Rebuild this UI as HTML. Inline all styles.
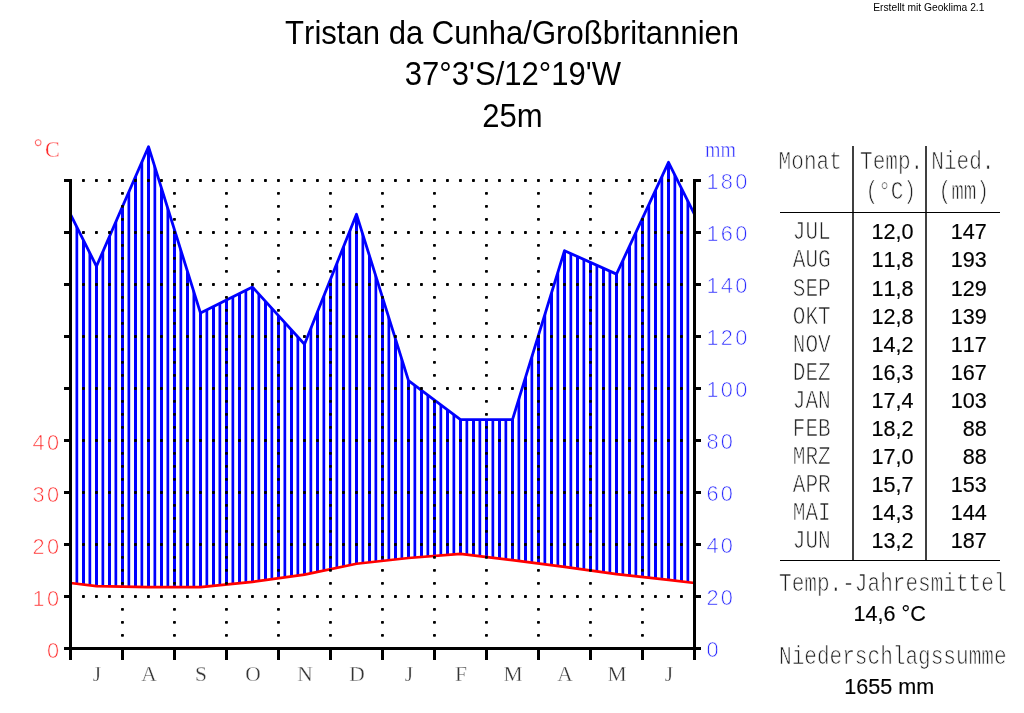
<!DOCTYPE html>
<html lang="de"><head><meta charset="utf-8"><title>Klimadiagramm Tristan da Cunha</title>
<style>
html,body{margin:0;padding:0;background:#fff;}
body{width:1024px;height:713px;overflow:hidden;position:relative;}
svg{position:absolute;left:0;top:0;display:block;}
.sans{font-family:"Liberation Sans",Arial,Helvetica,sans-serif;fill:#000;font-kerning:none;}
.b{stroke:#000;stroke-width:0.15px;}
.mono{font-family:"Liberation Mono","Courier New",Courier,monospace;}
.thin{stroke:#fff;stroke-width:0.7px;paint-order:fill stroke;}
.thin3{stroke:#fff;stroke-width:0.5px;paint-order:fill stroke;}
.thin2{stroke:#fff;stroke-width:0.35px;paint-order:fill stroke;}
.serif{font-family:"Liberation Serif","Times New Roman",Times,serif;}
</style></head><body>
<svg width="1024" height="713" viewBox="0 0 1024 713">
<rect x="0" y="0" width="1024" height="713" fill="#fff"/>
<defs><clipPath id="area"><polygon points="70.50,214.30 96.50,266.30 148.50,146.70 200.50,313.10 252.50,287.10 304.50,344.30 356.50,214.30 408.50,380.70 460.50,419.70 512.50,419.70 564.50,250.70 616.50,274.10 668.50,162.30 694.50,214.30 694.50,582.98 668.50,579.86 616.50,574.14 564.50,566.86 512.50,560.10 460.50,553.86 408.50,558.02 356.50,563.74 304.50,574.66 252.50,581.94 200.50,587.14 148.50,587.14 96.50,586.10 70.50,582.98"/></clipPath></defs>
<g clip-path="url(#area)" fill="#0000ff">
<rect x="75.5" y="130" width="2.7" height="470"/>
<rect x="82" y="130" width="3" height="470"/>
<rect x="88.5" y="130" width="2.7" height="470"/>
<rect x="95" y="130" width="3" height="470"/>
<rect x="101.5" y="130" width="2.7" height="470"/>
<rect x="108" y="130" width="3" height="470"/>
<rect x="114.5" y="130" width="2.7" height="470"/>
<rect x="121" y="130" width="3" height="470"/>
<rect x="127.5" y="130" width="2.7" height="470"/>
<rect x="134" y="130" width="3" height="470"/>
<rect x="140.5" y="130" width="2.7" height="470"/>
<rect x="147" y="130" width="3" height="470"/>
<rect x="153.5" y="130" width="2.7" height="470"/>
<rect x="160" y="130" width="3" height="470"/>
<rect x="166.5" y="130" width="2.7" height="470"/>
<rect x="173" y="130" width="3" height="470"/>
<rect x="179.5" y="130" width="2.7" height="470"/>
<rect x="186" y="130" width="3" height="470"/>
<rect x="192.5" y="130" width="2.7" height="470"/>
<rect x="199" y="130" width="3" height="470"/>
<rect x="205.5" y="130" width="2.7" height="470"/>
<rect x="212" y="130" width="3" height="470"/>
<rect x="218.5" y="130" width="2.7" height="470"/>
<rect x="225" y="130" width="3" height="470"/>
<rect x="231.5" y="130" width="2.7" height="470"/>
<rect x="238" y="130" width="3" height="470"/>
<rect x="244.5" y="130" width="2.7" height="470"/>
<rect x="251" y="130" width="3" height="470"/>
<rect x="257.5" y="130" width="2.7" height="470"/>
<rect x="264" y="130" width="3" height="470"/>
<rect x="270.5" y="130" width="2.7" height="470"/>
<rect x="277" y="130" width="3" height="470"/>
<rect x="283.5" y="130" width="2.7" height="470"/>
<rect x="290" y="130" width="3" height="470"/>
<rect x="296.5" y="130" width="2.7" height="470"/>
<rect x="303" y="130" width="3" height="470"/>
<rect x="309.5" y="130" width="2.7" height="470"/>
<rect x="316" y="130" width="3" height="470"/>
<rect x="322.5" y="130" width="2.7" height="470"/>
<rect x="329" y="130" width="3" height="470"/>
<rect x="335.5" y="130" width="2.7" height="470"/>
<rect x="342" y="130" width="3" height="470"/>
<rect x="348.5" y="130" width="2.7" height="470"/>
<rect x="355" y="130" width="3" height="470"/>
<rect x="361.5" y="130" width="2.7" height="470"/>
<rect x="368" y="130" width="3" height="470"/>
<rect x="374.5" y="130" width="2.7" height="470"/>
<rect x="381" y="130" width="3" height="470"/>
<rect x="387.5" y="130" width="2.7" height="470"/>
<rect x="394" y="130" width="3" height="470"/>
<rect x="400.5" y="130" width="2.7" height="470"/>
<rect x="407" y="130" width="3" height="470"/>
<rect x="413.5" y="130" width="2.7" height="470"/>
<rect x="420" y="130" width="3" height="470"/>
<rect x="426.5" y="130" width="2.7" height="470"/>
<rect x="433" y="130" width="3" height="470"/>
<rect x="439.5" y="130" width="2.7" height="470"/>
<rect x="446" y="130" width="3" height="470"/>
<rect x="452.5" y="130" width="2.7" height="470"/>
<rect x="459" y="130" width="3" height="470"/>
<rect x="465.5" y="130" width="2.7" height="470"/>
<rect x="472" y="130" width="3" height="470"/>
<rect x="478.5" y="130" width="2.7" height="470"/>
<rect x="485" y="130" width="3" height="470"/>
<rect x="491.5" y="130" width="2.7" height="470"/>
<rect x="498" y="130" width="3" height="470"/>
<rect x="504.5" y="130" width="2.7" height="470"/>
<rect x="511" y="130" width="3" height="470"/>
<rect x="517.5" y="130" width="2.7" height="470"/>
<rect x="524" y="130" width="3" height="470"/>
<rect x="530.5" y="130" width="2.7" height="470"/>
<rect x="537" y="130" width="3" height="470"/>
<rect x="543.5" y="130" width="2.7" height="470"/>
<rect x="550" y="130" width="3" height="470"/>
<rect x="556.5" y="130" width="2.7" height="470"/>
<rect x="563" y="130" width="3" height="470"/>
<rect x="569.5" y="130" width="2.7" height="470"/>
<rect x="576" y="130" width="3" height="470"/>
<rect x="582.5" y="130" width="2.7" height="470"/>
<rect x="589" y="130" width="3" height="470"/>
<rect x="595.5" y="130" width="2.7" height="470"/>
<rect x="602" y="130" width="3" height="470"/>
<rect x="608.5" y="130" width="2.7" height="470"/>
<rect x="615" y="130" width="3" height="470"/>
<rect x="621.5" y="130" width="2.7" height="470"/>
<rect x="628" y="130" width="3" height="470"/>
<rect x="634.5" y="130" width="2.7" height="470"/>
<rect x="641" y="130" width="3" height="470"/>
<rect x="647.5" y="130" width="2.7" height="470"/>
<rect x="654" y="130" width="3" height="470"/>
<rect x="660.5" y="130" width="2.7" height="470"/>
<rect x="667" y="130" width="3" height="470"/>
<rect x="673.5" y="130" width="2.7" height="470"/>
<rect x="680" y="130" width="3" height="470"/>
<rect x="686.5" y="130" width="2.7" height="470"/>
</g>
<polyline points="70.50,214.30 96.50,266.30 148.50,146.70 200.50,313.10 252.50,287.10 304.50,344.30 356.50,214.30 408.50,380.70 460.50,419.70 512.50,419.70 564.50,250.70 616.50,274.10 668.50,162.30 694.50,214.30" fill="none" stroke="#0000ff" stroke-width="2.8" stroke-linejoin="round"/>
<polyline points="70.50,582.98 96.50,586.10 148.50,587.14 200.50,587.14 252.50,581.94 304.50,574.66 356.50,563.74 408.50,558.02 460.50,553.86 512.50,560.10 564.50,566.86 616.50,574.14 668.50,579.86 694.50,582.98" fill="none" stroke="#ff0000" stroke-width="2.7" stroke-linejoin="round"/>
<g fill="#000">
<rect x="82" y="179.1" width="2.9" height="2.8" rx="0.7"/>
<rect x="95" y="179.1" width="2.9" height="2.8" rx="0.7"/>
<rect x="108" y="179.1" width="2.9" height="2.8" rx="0.7"/>
<rect x="121" y="179.1" width="2.9" height="2.8" rx="0.7"/>
<rect x="134" y="179.1" width="2.9" height="2.8" rx="0.7"/>
<rect x="147" y="179.1" width="2.9" height="2.8" rx="0.7"/>
<rect x="160" y="179.1" width="2.9" height="2.8" rx="0.7"/>
<rect x="173" y="179.1" width="2.9" height="2.8" rx="0.7"/>
<rect x="186" y="179.1" width="2.9" height="2.8" rx="0.7"/>
<rect x="199" y="179.1" width="2.9" height="2.8" rx="0.7"/>
<rect x="212" y="179.1" width="2.9" height="2.8" rx="0.7"/>
<rect x="225" y="179.1" width="2.9" height="2.8" rx="0.7"/>
<rect x="238" y="179.1" width="2.9" height="2.8" rx="0.7"/>
<rect x="251" y="179.1" width="2.9" height="2.8" rx="0.7"/>
<rect x="264" y="179.1" width="2.9" height="2.8" rx="0.7"/>
<rect x="277" y="179.1" width="2.9" height="2.8" rx="0.7"/>
<rect x="290" y="179.1" width="2.9" height="2.8" rx="0.7"/>
<rect x="303" y="179.1" width="2.9" height="2.8" rx="0.7"/>
<rect x="316" y="179.1" width="2.9" height="2.8" rx="0.7"/>
<rect x="329" y="179.1" width="2.9" height="2.8" rx="0.7"/>
<rect x="342" y="179.1" width="2.9" height="2.8" rx="0.7"/>
<rect x="355" y="179.1" width="2.9" height="2.8" rx="0.7"/>
<rect x="368" y="179.1" width="2.9" height="2.8" rx="0.7"/>
<rect x="381" y="179.1" width="2.9" height="2.8" rx="0.7"/>
<rect x="394" y="179.1" width="2.9" height="2.8" rx="0.7"/>
<rect x="407" y="179.1" width="2.9" height="2.8" rx="0.7"/>
<rect x="420" y="179.1" width="2.9" height="2.8" rx="0.7"/>
<rect x="433" y="179.1" width="2.9" height="2.8" rx="0.7"/>
<rect x="446" y="179.1" width="2.9" height="2.8" rx="0.7"/>
<rect x="459" y="179.1" width="2.9" height="2.8" rx="0.7"/>
<rect x="472" y="179.1" width="2.9" height="2.8" rx="0.7"/>
<rect x="485" y="179.1" width="2.9" height="2.8" rx="0.7"/>
<rect x="498" y="179.1" width="2.9" height="2.8" rx="0.7"/>
<rect x="511" y="179.1" width="2.9" height="2.8" rx="0.7"/>
<rect x="524" y="179.1" width="2.9" height="2.8" rx="0.7"/>
<rect x="537" y="179.1" width="2.9" height="2.8" rx="0.7"/>
<rect x="550" y="179.1" width="2.9" height="2.8" rx="0.7"/>
<rect x="563" y="179.1" width="2.9" height="2.8" rx="0.7"/>
<rect x="576" y="179.1" width="2.9" height="2.8" rx="0.7"/>
<rect x="589" y="179.1" width="2.9" height="2.8" rx="0.7"/>
<rect x="602" y="179.1" width="2.9" height="2.8" rx="0.7"/>
<rect x="615" y="179.1" width="2.9" height="2.8" rx="0.7"/>
<rect x="628" y="179.1" width="2.9" height="2.8" rx="0.7"/>
<rect x="641" y="179.1" width="2.9" height="2.8" rx="0.7"/>
<rect x="654" y="179.1" width="2.9" height="2.8" rx="0.7"/>
<rect x="667" y="179.1" width="2.9" height="2.8" rx="0.7"/>
<rect x="680" y="179.1" width="2.9" height="2.8" rx="0.7"/>
<rect x="82" y="231.1" width="2.9" height="2.8" rx="0.7"/>
<rect x="95" y="231.1" width="2.9" height="2.8" rx="0.7"/>
<rect x="108" y="231.1" width="2.9" height="2.8" rx="0.7"/>
<rect x="121" y="231.1" width="2.9" height="2.8" rx="0.7"/>
<rect x="134" y="231.1" width="2.9" height="2.8" rx="0.7"/>
<rect x="147" y="231.1" width="2.9" height="2.8" rx="0.7"/>
<rect x="160" y="231.1" width="2.9" height="2.8" rx="0.7"/>
<rect x="173" y="231.1" width="2.9" height="2.8" rx="0.7"/>
<rect x="186" y="231.1" width="2.9" height="2.8" rx="0.7"/>
<rect x="199" y="231.1" width="2.9" height="2.8" rx="0.7"/>
<rect x="212" y="231.1" width="2.9" height="2.8" rx="0.7"/>
<rect x="225" y="231.1" width="2.9" height="2.8" rx="0.7"/>
<rect x="238" y="231.1" width="2.9" height="2.8" rx="0.7"/>
<rect x="251" y="231.1" width="2.9" height="2.8" rx="0.7"/>
<rect x="264" y="231.1" width="2.9" height="2.8" rx="0.7"/>
<rect x="277" y="231.1" width="2.9" height="2.8" rx="0.7"/>
<rect x="290" y="231.1" width="2.9" height="2.8" rx="0.7"/>
<rect x="303" y="231.1" width="2.9" height="2.8" rx="0.7"/>
<rect x="316" y="231.1" width="2.9" height="2.8" rx="0.7"/>
<rect x="329" y="231.1" width="2.9" height="2.8" rx="0.7"/>
<rect x="342" y="231.1" width="2.9" height="2.8" rx="0.7"/>
<rect x="355" y="231.1" width="2.9" height="2.8" rx="0.7"/>
<rect x="368" y="231.1" width="2.9" height="2.8" rx="0.7"/>
<rect x="381" y="231.1" width="2.9" height="2.8" rx="0.7"/>
<rect x="394" y="231.1" width="2.9" height="2.8" rx="0.7"/>
<rect x="407" y="231.1" width="2.9" height="2.8" rx="0.7"/>
<rect x="420" y="231.1" width="2.9" height="2.8" rx="0.7"/>
<rect x="433" y="231.1" width="2.9" height="2.8" rx="0.7"/>
<rect x="446" y="231.1" width="2.9" height="2.8" rx="0.7"/>
<rect x="459" y="231.1" width="2.9" height="2.8" rx="0.7"/>
<rect x="472" y="231.1" width="2.9" height="2.8" rx="0.7"/>
<rect x="485" y="231.1" width="2.9" height="2.8" rx="0.7"/>
<rect x="498" y="231.1" width="2.9" height="2.8" rx="0.7"/>
<rect x="511" y="231.1" width="2.9" height="2.8" rx="0.7"/>
<rect x="524" y="231.1" width="2.9" height="2.8" rx="0.7"/>
<rect x="537" y="231.1" width="2.9" height="2.8" rx="0.7"/>
<rect x="550" y="231.1" width="2.9" height="2.8" rx="0.7"/>
<rect x="563" y="231.1" width="2.9" height="2.8" rx="0.7"/>
<rect x="576" y="231.1" width="2.9" height="2.8" rx="0.7"/>
<rect x="589" y="231.1" width="2.9" height="2.8" rx="0.7"/>
<rect x="602" y="231.1" width="2.9" height="2.8" rx="0.7"/>
<rect x="615" y="231.1" width="2.9" height="2.8" rx="0.7"/>
<rect x="628" y="231.1" width="2.9" height="2.8" rx="0.7"/>
<rect x="641" y="231.1" width="2.9" height="2.8" rx="0.7"/>
<rect x="654" y="231.1" width="2.9" height="2.8" rx="0.7"/>
<rect x="667" y="231.1" width="2.9" height="2.8" rx="0.7"/>
<rect x="680" y="231.1" width="2.9" height="2.8" rx="0.7"/>
<rect x="82" y="283.1" width="2.9" height="2.8" rx="0.7"/>
<rect x="95" y="283.1" width="2.9" height="2.8" rx="0.7"/>
<rect x="108" y="283.1" width="2.9" height="2.8" rx="0.7"/>
<rect x="121" y="283.1" width="2.9" height="2.8" rx="0.7"/>
<rect x="134" y="283.1" width="2.9" height="2.8" rx="0.7"/>
<rect x="147" y="283.1" width="2.9" height="2.8" rx="0.7"/>
<rect x="160" y="283.1" width="2.9" height="2.8" rx="0.7"/>
<rect x="173" y="283.1" width="2.9" height="2.8" rx="0.7"/>
<rect x="186" y="283.1" width="2.9" height="2.8" rx="0.7"/>
<rect x="199" y="283.1" width="2.9" height="2.8" rx="0.7"/>
<rect x="212" y="283.1" width="2.9" height="2.8" rx="0.7"/>
<rect x="225" y="283.1" width="2.9" height="2.8" rx="0.7"/>
<rect x="238" y="283.1" width="2.9" height="2.8" rx="0.7"/>
<rect x="251" y="283.1" width="2.9" height="2.8" rx="0.7"/>
<rect x="264" y="283.1" width="2.9" height="2.8" rx="0.7"/>
<rect x="277" y="283.1" width="2.9" height="2.8" rx="0.7"/>
<rect x="290" y="283.1" width="2.9" height="2.8" rx="0.7"/>
<rect x="303" y="283.1" width="2.9" height="2.8" rx="0.7"/>
<rect x="316" y="283.1" width="2.9" height="2.8" rx="0.7"/>
<rect x="329" y="283.1" width="2.9" height="2.8" rx="0.7"/>
<rect x="342" y="283.1" width="2.9" height="2.8" rx="0.7"/>
<rect x="355" y="283.1" width="2.9" height="2.8" rx="0.7"/>
<rect x="368" y="283.1" width="2.9" height="2.8" rx="0.7"/>
<rect x="381" y="283.1" width="2.9" height="2.8" rx="0.7"/>
<rect x="394" y="283.1" width="2.9" height="2.8" rx="0.7"/>
<rect x="407" y="283.1" width="2.9" height="2.8" rx="0.7"/>
<rect x="420" y="283.1" width="2.9" height="2.8" rx="0.7"/>
<rect x="433" y="283.1" width="2.9" height="2.8" rx="0.7"/>
<rect x="446" y="283.1" width="2.9" height="2.8" rx="0.7"/>
<rect x="459" y="283.1" width="2.9" height="2.8" rx="0.7"/>
<rect x="472" y="283.1" width="2.9" height="2.8" rx="0.7"/>
<rect x="485" y="283.1" width="2.9" height="2.8" rx="0.7"/>
<rect x="498" y="283.1" width="2.9" height="2.8" rx="0.7"/>
<rect x="511" y="283.1" width="2.9" height="2.8" rx="0.7"/>
<rect x="524" y="283.1" width="2.9" height="2.8" rx="0.7"/>
<rect x="537" y="283.1" width="2.9" height="2.8" rx="0.7"/>
<rect x="550" y="283.1" width="2.9" height="2.8" rx="0.7"/>
<rect x="563" y="283.1" width="2.9" height="2.8" rx="0.7"/>
<rect x="576" y="283.1" width="2.9" height="2.8" rx="0.7"/>
<rect x="589" y="283.1" width="2.9" height="2.8" rx="0.7"/>
<rect x="602" y="283.1" width="2.9" height="2.8" rx="0.7"/>
<rect x="615" y="283.1" width="2.9" height="2.8" rx="0.7"/>
<rect x="628" y="283.1" width="2.9" height="2.8" rx="0.7"/>
<rect x="641" y="283.1" width="2.9" height="2.8" rx="0.7"/>
<rect x="654" y="283.1" width="2.9" height="2.8" rx="0.7"/>
<rect x="667" y="283.1" width="2.9" height="2.8" rx="0.7"/>
<rect x="680" y="283.1" width="2.9" height="2.8" rx="0.7"/>
<rect x="82" y="335.1" width="2.9" height="2.8" rx="0.7"/>
<rect x="95" y="335.1" width="2.9" height="2.8" rx="0.7"/>
<rect x="108" y="335.1" width="2.9" height="2.8" rx="0.7"/>
<rect x="121" y="335.1" width="2.9" height="2.8" rx="0.7"/>
<rect x="134" y="335.1" width="2.9" height="2.8" rx="0.7"/>
<rect x="147" y="335.1" width="2.9" height="2.8" rx="0.7"/>
<rect x="160" y="335.1" width="2.9" height="2.8" rx="0.7"/>
<rect x="173" y="335.1" width="2.9" height="2.8" rx="0.7"/>
<rect x="186" y="335.1" width="2.9" height="2.8" rx="0.7"/>
<rect x="199" y="335.1" width="2.9" height="2.8" rx="0.7"/>
<rect x="212" y="335.1" width="2.9" height="2.8" rx="0.7"/>
<rect x="225" y="335.1" width="2.9" height="2.8" rx="0.7"/>
<rect x="238" y="335.1" width="2.9" height="2.8" rx="0.7"/>
<rect x="251" y="335.1" width="2.9" height="2.8" rx="0.7"/>
<rect x="264" y="335.1" width="2.9" height="2.8" rx="0.7"/>
<rect x="277" y="335.1" width="2.9" height="2.8" rx="0.7"/>
<rect x="290" y="335.1" width="2.9" height="2.8" rx="0.7"/>
<rect x="303" y="335.1" width="2.9" height="2.8" rx="0.7"/>
<rect x="316" y="335.1" width="2.9" height="2.8" rx="0.7"/>
<rect x="329" y="335.1" width="2.9" height="2.8" rx="0.7"/>
<rect x="342" y="335.1" width="2.9" height="2.8" rx="0.7"/>
<rect x="355" y="335.1" width="2.9" height="2.8" rx="0.7"/>
<rect x="368" y="335.1" width="2.9" height="2.8" rx="0.7"/>
<rect x="381" y="335.1" width="2.9" height="2.8" rx="0.7"/>
<rect x="394" y="335.1" width="2.9" height="2.8" rx="0.7"/>
<rect x="407" y="335.1" width="2.9" height="2.8" rx="0.7"/>
<rect x="420" y="335.1" width="2.9" height="2.8" rx="0.7"/>
<rect x="433" y="335.1" width="2.9" height="2.8" rx="0.7"/>
<rect x="446" y="335.1" width="2.9" height="2.8" rx="0.7"/>
<rect x="459" y="335.1" width="2.9" height="2.8" rx="0.7"/>
<rect x="472" y="335.1" width="2.9" height="2.8" rx="0.7"/>
<rect x="485" y="335.1" width="2.9" height="2.8" rx="0.7"/>
<rect x="498" y="335.1" width="2.9" height="2.8" rx="0.7"/>
<rect x="511" y="335.1" width="2.9" height="2.8" rx="0.7"/>
<rect x="524" y="335.1" width="2.9" height="2.8" rx="0.7"/>
<rect x="537" y="335.1" width="2.9" height="2.8" rx="0.7"/>
<rect x="550" y="335.1" width="2.9" height="2.8" rx="0.7"/>
<rect x="563" y="335.1" width="2.9" height="2.8" rx="0.7"/>
<rect x="576" y="335.1" width="2.9" height="2.8" rx="0.7"/>
<rect x="589" y="335.1" width="2.9" height="2.8" rx="0.7"/>
<rect x="602" y="335.1" width="2.9" height="2.8" rx="0.7"/>
<rect x="615" y="335.1" width="2.9" height="2.8" rx="0.7"/>
<rect x="628" y="335.1" width="2.9" height="2.8" rx="0.7"/>
<rect x="641" y="335.1" width="2.9" height="2.8" rx="0.7"/>
<rect x="654" y="335.1" width="2.9" height="2.8" rx="0.7"/>
<rect x="667" y="335.1" width="2.9" height="2.8" rx="0.7"/>
<rect x="680" y="335.1" width="2.9" height="2.8" rx="0.7"/>
<rect x="82" y="387.1" width="2.9" height="2.8" rx="0.7"/>
<rect x="95" y="387.1" width="2.9" height="2.8" rx="0.7"/>
<rect x="108" y="387.1" width="2.9" height="2.8" rx="0.7"/>
<rect x="121" y="387.1" width="2.9" height="2.8" rx="0.7"/>
<rect x="134" y="387.1" width="2.9" height="2.8" rx="0.7"/>
<rect x="147" y="387.1" width="2.9" height="2.8" rx="0.7"/>
<rect x="160" y="387.1" width="2.9" height="2.8" rx="0.7"/>
<rect x="173" y="387.1" width="2.9" height="2.8" rx="0.7"/>
<rect x="186" y="387.1" width="2.9" height="2.8" rx="0.7"/>
<rect x="199" y="387.1" width="2.9" height="2.8" rx="0.7"/>
<rect x="212" y="387.1" width="2.9" height="2.8" rx="0.7"/>
<rect x="225" y="387.1" width="2.9" height="2.8" rx="0.7"/>
<rect x="238" y="387.1" width="2.9" height="2.8" rx="0.7"/>
<rect x="251" y="387.1" width="2.9" height="2.8" rx="0.7"/>
<rect x="264" y="387.1" width="2.9" height="2.8" rx="0.7"/>
<rect x="277" y="387.1" width="2.9" height="2.8" rx="0.7"/>
<rect x="290" y="387.1" width="2.9" height="2.8" rx="0.7"/>
<rect x="303" y="387.1" width="2.9" height="2.8" rx="0.7"/>
<rect x="316" y="387.1" width="2.9" height="2.8" rx="0.7"/>
<rect x="329" y="387.1" width="2.9" height="2.8" rx="0.7"/>
<rect x="342" y="387.1" width="2.9" height="2.8" rx="0.7"/>
<rect x="355" y="387.1" width="2.9" height="2.8" rx="0.7"/>
<rect x="368" y="387.1" width="2.9" height="2.8" rx="0.7"/>
<rect x="381" y="387.1" width="2.9" height="2.8" rx="0.7"/>
<rect x="394" y="387.1" width="2.9" height="2.8" rx="0.7"/>
<rect x="407" y="387.1" width="2.9" height="2.8" rx="0.7"/>
<rect x="420" y="387.1" width="2.9" height="2.8" rx="0.7"/>
<rect x="433" y="387.1" width="2.9" height="2.8" rx="0.7"/>
<rect x="446" y="387.1" width="2.9" height="2.8" rx="0.7"/>
<rect x="459" y="387.1" width="2.9" height="2.8" rx="0.7"/>
<rect x="472" y="387.1" width="2.9" height="2.8" rx="0.7"/>
<rect x="485" y="387.1" width="2.9" height="2.8" rx="0.7"/>
<rect x="498" y="387.1" width="2.9" height="2.8" rx="0.7"/>
<rect x="511" y="387.1" width="2.9" height="2.8" rx="0.7"/>
<rect x="524" y="387.1" width="2.9" height="2.8" rx="0.7"/>
<rect x="537" y="387.1" width="2.9" height="2.8" rx="0.7"/>
<rect x="550" y="387.1" width="2.9" height="2.8" rx="0.7"/>
<rect x="563" y="387.1" width="2.9" height="2.8" rx="0.7"/>
<rect x="576" y="387.1" width="2.9" height="2.8" rx="0.7"/>
<rect x="589" y="387.1" width="2.9" height="2.8" rx="0.7"/>
<rect x="602" y="387.1" width="2.9" height="2.8" rx="0.7"/>
<rect x="615" y="387.1" width="2.9" height="2.8" rx="0.7"/>
<rect x="628" y="387.1" width="2.9" height="2.8" rx="0.7"/>
<rect x="641" y="387.1" width="2.9" height="2.8" rx="0.7"/>
<rect x="654" y="387.1" width="2.9" height="2.8" rx="0.7"/>
<rect x="667" y="387.1" width="2.9" height="2.8" rx="0.7"/>
<rect x="680" y="387.1" width="2.9" height="2.8" rx="0.7"/>
<rect x="82" y="439.1" width="2.9" height="2.8" rx="0.7"/>
<rect x="95" y="439.1" width="2.9" height="2.8" rx="0.7"/>
<rect x="108" y="439.1" width="2.9" height="2.8" rx="0.7"/>
<rect x="121" y="439.1" width="2.9" height="2.8" rx="0.7"/>
<rect x="134" y="439.1" width="2.9" height="2.8" rx="0.7"/>
<rect x="147" y="439.1" width="2.9" height="2.8" rx="0.7"/>
<rect x="160" y="439.1" width="2.9" height="2.8" rx="0.7"/>
<rect x="173" y="439.1" width="2.9" height="2.8" rx="0.7"/>
<rect x="186" y="439.1" width="2.9" height="2.8" rx="0.7"/>
<rect x="199" y="439.1" width="2.9" height="2.8" rx="0.7"/>
<rect x="212" y="439.1" width="2.9" height="2.8" rx="0.7"/>
<rect x="225" y="439.1" width="2.9" height="2.8" rx="0.7"/>
<rect x="238" y="439.1" width="2.9" height="2.8" rx="0.7"/>
<rect x="251" y="439.1" width="2.9" height="2.8" rx="0.7"/>
<rect x="264" y="439.1" width="2.9" height="2.8" rx="0.7"/>
<rect x="277" y="439.1" width="2.9" height="2.8" rx="0.7"/>
<rect x="290" y="439.1" width="2.9" height="2.8" rx="0.7"/>
<rect x="303" y="439.1" width="2.9" height="2.8" rx="0.7"/>
<rect x="316" y="439.1" width="2.9" height="2.8" rx="0.7"/>
<rect x="329" y="439.1" width="2.9" height="2.8" rx="0.7"/>
<rect x="342" y="439.1" width="2.9" height="2.8" rx="0.7"/>
<rect x="355" y="439.1" width="2.9" height="2.8" rx="0.7"/>
<rect x="368" y="439.1" width="2.9" height="2.8" rx="0.7"/>
<rect x="381" y="439.1" width="2.9" height="2.8" rx="0.7"/>
<rect x="394" y="439.1" width="2.9" height="2.8" rx="0.7"/>
<rect x="407" y="439.1" width="2.9" height="2.8" rx="0.7"/>
<rect x="420" y="439.1" width="2.9" height="2.8" rx="0.7"/>
<rect x="433" y="439.1" width="2.9" height="2.8" rx="0.7"/>
<rect x="446" y="439.1" width="2.9" height="2.8" rx="0.7"/>
<rect x="459" y="439.1" width="2.9" height="2.8" rx="0.7"/>
<rect x="472" y="439.1" width="2.9" height="2.8" rx="0.7"/>
<rect x="485" y="439.1" width="2.9" height="2.8" rx="0.7"/>
<rect x="498" y="439.1" width="2.9" height="2.8" rx="0.7"/>
<rect x="511" y="439.1" width="2.9" height="2.8" rx="0.7"/>
<rect x="524" y="439.1" width="2.9" height="2.8" rx="0.7"/>
<rect x="537" y="439.1" width="2.9" height="2.8" rx="0.7"/>
<rect x="550" y="439.1" width="2.9" height="2.8" rx="0.7"/>
<rect x="563" y="439.1" width="2.9" height="2.8" rx="0.7"/>
<rect x="576" y="439.1" width="2.9" height="2.8" rx="0.7"/>
<rect x="589" y="439.1" width="2.9" height="2.8" rx="0.7"/>
<rect x="602" y="439.1" width="2.9" height="2.8" rx="0.7"/>
<rect x="615" y="439.1" width="2.9" height="2.8" rx="0.7"/>
<rect x="628" y="439.1" width="2.9" height="2.8" rx="0.7"/>
<rect x="641" y="439.1" width="2.9" height="2.8" rx="0.7"/>
<rect x="654" y="439.1" width="2.9" height="2.8" rx="0.7"/>
<rect x="667" y="439.1" width="2.9" height="2.8" rx="0.7"/>
<rect x="680" y="439.1" width="2.9" height="2.8" rx="0.7"/>
<rect x="82" y="491.1" width="2.9" height="2.8" rx="0.7"/>
<rect x="95" y="491.1" width="2.9" height="2.8" rx="0.7"/>
<rect x="108" y="491.1" width="2.9" height="2.8" rx="0.7"/>
<rect x="121" y="491.1" width="2.9" height="2.8" rx="0.7"/>
<rect x="134" y="491.1" width="2.9" height="2.8" rx="0.7"/>
<rect x="147" y="491.1" width="2.9" height="2.8" rx="0.7"/>
<rect x="160" y="491.1" width="2.9" height="2.8" rx="0.7"/>
<rect x="173" y="491.1" width="2.9" height="2.8" rx="0.7"/>
<rect x="186" y="491.1" width="2.9" height="2.8" rx="0.7"/>
<rect x="199" y="491.1" width="2.9" height="2.8" rx="0.7"/>
<rect x="212" y="491.1" width="2.9" height="2.8" rx="0.7"/>
<rect x="225" y="491.1" width="2.9" height="2.8" rx="0.7"/>
<rect x="238" y="491.1" width="2.9" height="2.8" rx="0.7"/>
<rect x="251" y="491.1" width="2.9" height="2.8" rx="0.7"/>
<rect x="264" y="491.1" width="2.9" height="2.8" rx="0.7"/>
<rect x="277" y="491.1" width="2.9" height="2.8" rx="0.7"/>
<rect x="290" y="491.1" width="2.9" height="2.8" rx="0.7"/>
<rect x="303" y="491.1" width="2.9" height="2.8" rx="0.7"/>
<rect x="316" y="491.1" width="2.9" height="2.8" rx="0.7"/>
<rect x="329" y="491.1" width="2.9" height="2.8" rx="0.7"/>
<rect x="342" y="491.1" width="2.9" height="2.8" rx="0.7"/>
<rect x="355" y="491.1" width="2.9" height="2.8" rx="0.7"/>
<rect x="368" y="491.1" width="2.9" height="2.8" rx="0.7"/>
<rect x="381" y="491.1" width="2.9" height="2.8" rx="0.7"/>
<rect x="394" y="491.1" width="2.9" height="2.8" rx="0.7"/>
<rect x="407" y="491.1" width="2.9" height="2.8" rx="0.7"/>
<rect x="420" y="491.1" width="2.9" height="2.8" rx="0.7"/>
<rect x="433" y="491.1" width="2.9" height="2.8" rx="0.7"/>
<rect x="446" y="491.1" width="2.9" height="2.8" rx="0.7"/>
<rect x="459" y="491.1" width="2.9" height="2.8" rx="0.7"/>
<rect x="472" y="491.1" width="2.9" height="2.8" rx="0.7"/>
<rect x="485" y="491.1" width="2.9" height="2.8" rx="0.7"/>
<rect x="498" y="491.1" width="2.9" height="2.8" rx="0.7"/>
<rect x="511" y="491.1" width="2.9" height="2.8" rx="0.7"/>
<rect x="524" y="491.1" width="2.9" height="2.8" rx="0.7"/>
<rect x="537" y="491.1" width="2.9" height="2.8" rx="0.7"/>
<rect x="550" y="491.1" width="2.9" height="2.8" rx="0.7"/>
<rect x="563" y="491.1" width="2.9" height="2.8" rx="0.7"/>
<rect x="576" y="491.1" width="2.9" height="2.8" rx="0.7"/>
<rect x="589" y="491.1" width="2.9" height="2.8" rx="0.7"/>
<rect x="602" y="491.1" width="2.9" height="2.8" rx="0.7"/>
<rect x="615" y="491.1" width="2.9" height="2.8" rx="0.7"/>
<rect x="628" y="491.1" width="2.9" height="2.8" rx="0.7"/>
<rect x="641" y="491.1" width="2.9" height="2.8" rx="0.7"/>
<rect x="654" y="491.1" width="2.9" height="2.8" rx="0.7"/>
<rect x="667" y="491.1" width="2.9" height="2.8" rx="0.7"/>
<rect x="680" y="491.1" width="2.9" height="2.8" rx="0.7"/>
<rect x="82" y="543.1" width="2.9" height="2.8" rx="0.7"/>
<rect x="95" y="543.1" width="2.9" height="2.8" rx="0.7"/>
<rect x="108" y="543.1" width="2.9" height="2.8" rx="0.7"/>
<rect x="121" y="543.1" width="2.9" height="2.8" rx="0.7"/>
<rect x="134" y="543.1" width="2.9" height="2.8" rx="0.7"/>
<rect x="147" y="543.1" width="2.9" height="2.8" rx="0.7"/>
<rect x="160" y="543.1" width="2.9" height="2.8" rx="0.7"/>
<rect x="173" y="543.1" width="2.9" height="2.8" rx="0.7"/>
<rect x="186" y="543.1" width="2.9" height="2.8" rx="0.7"/>
<rect x="199" y="543.1" width="2.9" height="2.8" rx="0.7"/>
<rect x="212" y="543.1" width="2.9" height="2.8" rx="0.7"/>
<rect x="225" y="543.1" width="2.9" height="2.8" rx="0.7"/>
<rect x="238" y="543.1" width="2.9" height="2.8" rx="0.7"/>
<rect x="251" y="543.1" width="2.9" height="2.8" rx="0.7"/>
<rect x="264" y="543.1" width="2.9" height="2.8" rx="0.7"/>
<rect x="277" y="543.1" width="2.9" height="2.8" rx="0.7"/>
<rect x="290" y="543.1" width="2.9" height="2.8" rx="0.7"/>
<rect x="303" y="543.1" width="2.9" height="2.8" rx="0.7"/>
<rect x="316" y="543.1" width="2.9" height="2.8" rx="0.7"/>
<rect x="329" y="543.1" width="2.9" height="2.8" rx="0.7"/>
<rect x="342" y="543.1" width="2.9" height="2.8" rx="0.7"/>
<rect x="355" y="543.1" width="2.9" height="2.8" rx="0.7"/>
<rect x="368" y="543.1" width="2.9" height="2.8" rx="0.7"/>
<rect x="381" y="543.1" width="2.9" height="2.8" rx="0.7"/>
<rect x="394" y="543.1" width="2.9" height="2.8" rx="0.7"/>
<rect x="407" y="543.1" width="2.9" height="2.8" rx="0.7"/>
<rect x="420" y="543.1" width="2.9" height="2.8" rx="0.7"/>
<rect x="433" y="543.1" width="2.9" height="2.8" rx="0.7"/>
<rect x="446" y="543.1" width="2.9" height="2.8" rx="0.7"/>
<rect x="459" y="543.1" width="2.9" height="2.8" rx="0.7"/>
<rect x="472" y="543.1" width="2.9" height="2.8" rx="0.7"/>
<rect x="485" y="543.1" width="2.9" height="2.8" rx="0.7"/>
<rect x="498" y="543.1" width="2.9" height="2.8" rx="0.7"/>
<rect x="511" y="543.1" width="2.9" height="2.8" rx="0.7"/>
<rect x="524" y="543.1" width="2.9" height="2.8" rx="0.7"/>
<rect x="537" y="543.1" width="2.9" height="2.8" rx="0.7"/>
<rect x="550" y="543.1" width="2.9" height="2.8" rx="0.7"/>
<rect x="563" y="543.1" width="2.9" height="2.8" rx="0.7"/>
<rect x="576" y="543.1" width="2.9" height="2.8" rx="0.7"/>
<rect x="589" y="543.1" width="2.9" height="2.8" rx="0.7"/>
<rect x="602" y="543.1" width="2.9" height="2.8" rx="0.7"/>
<rect x="615" y="543.1" width="2.9" height="2.8" rx="0.7"/>
<rect x="628" y="543.1" width="2.9" height="2.8" rx="0.7"/>
<rect x="641" y="543.1" width="2.9" height="2.8" rx="0.7"/>
<rect x="654" y="543.1" width="2.9" height="2.8" rx="0.7"/>
<rect x="667" y="543.1" width="2.9" height="2.8" rx="0.7"/>
<rect x="680" y="543.1" width="2.9" height="2.8" rx="0.7"/>
<rect x="82" y="595.1" width="2.9" height="2.8" rx="0.7"/>
<rect x="95" y="595.1" width="2.9" height="2.8" rx="0.7"/>
<rect x="108" y="595.1" width="2.9" height="2.8" rx="0.7"/>
<rect x="121" y="595.1" width="2.9" height="2.8" rx="0.7"/>
<rect x="134" y="595.1" width="2.9" height="2.8" rx="0.7"/>
<rect x="147" y="595.1" width="2.9" height="2.8" rx="0.7"/>
<rect x="160" y="595.1" width="2.9" height="2.8" rx="0.7"/>
<rect x="173" y="595.1" width="2.9" height="2.8" rx="0.7"/>
<rect x="186" y="595.1" width="2.9" height="2.8" rx="0.7"/>
<rect x="199" y="595.1" width="2.9" height="2.8" rx="0.7"/>
<rect x="212" y="595.1" width="2.9" height="2.8" rx="0.7"/>
<rect x="225" y="595.1" width="2.9" height="2.8" rx="0.7"/>
<rect x="238" y="595.1" width="2.9" height="2.8" rx="0.7"/>
<rect x="251" y="595.1" width="2.9" height="2.8" rx="0.7"/>
<rect x="264" y="595.1" width="2.9" height="2.8" rx="0.7"/>
<rect x="277" y="595.1" width="2.9" height="2.8" rx="0.7"/>
<rect x="290" y="595.1" width="2.9" height="2.8" rx="0.7"/>
<rect x="303" y="595.1" width="2.9" height="2.8" rx="0.7"/>
<rect x="316" y="595.1" width="2.9" height="2.8" rx="0.7"/>
<rect x="329" y="595.1" width="2.9" height="2.8" rx="0.7"/>
<rect x="342" y="595.1" width="2.9" height="2.8" rx="0.7"/>
<rect x="355" y="595.1" width="2.9" height="2.8" rx="0.7"/>
<rect x="368" y="595.1" width="2.9" height="2.8" rx="0.7"/>
<rect x="381" y="595.1" width="2.9" height="2.8" rx="0.7"/>
<rect x="394" y="595.1" width="2.9" height="2.8" rx="0.7"/>
<rect x="407" y="595.1" width="2.9" height="2.8" rx="0.7"/>
<rect x="420" y="595.1" width="2.9" height="2.8" rx="0.7"/>
<rect x="433" y="595.1" width="2.9" height="2.8" rx="0.7"/>
<rect x="446" y="595.1" width="2.9" height="2.8" rx="0.7"/>
<rect x="459" y="595.1" width="2.9" height="2.8" rx="0.7"/>
<rect x="472" y="595.1" width="2.9" height="2.8" rx="0.7"/>
<rect x="485" y="595.1" width="2.9" height="2.8" rx="0.7"/>
<rect x="498" y="595.1" width="2.9" height="2.8" rx="0.7"/>
<rect x="511" y="595.1" width="2.9" height="2.8" rx="0.7"/>
<rect x="524" y="595.1" width="2.9" height="2.8" rx="0.7"/>
<rect x="537" y="595.1" width="2.9" height="2.8" rx="0.7"/>
<rect x="550" y="595.1" width="2.9" height="2.8" rx="0.7"/>
<rect x="563" y="595.1" width="2.9" height="2.8" rx="0.7"/>
<rect x="576" y="595.1" width="2.9" height="2.8" rx="0.7"/>
<rect x="589" y="595.1" width="2.9" height="2.8" rx="0.7"/>
<rect x="602" y="595.1" width="2.9" height="2.8" rx="0.7"/>
<rect x="615" y="595.1" width="2.9" height="2.8" rx="0.7"/>
<rect x="628" y="595.1" width="2.9" height="2.8" rx="0.7"/>
<rect x="641" y="595.1" width="2.9" height="2.8" rx="0.7"/>
<rect x="654" y="595.1" width="2.9" height="2.8" rx="0.7"/>
<rect x="667" y="595.1" width="2.9" height="2.8" rx="0.7"/>
<rect x="680" y="595.1" width="2.9" height="2.8" rx="0.7"/>
<rect x="121" y="192.0" width="2.9" height="2.8" rx="0.7"/>
<rect x="121" y="205.0" width="2.9" height="2.8" rx="0.7"/>
<rect x="121" y="218.0" width="2.9" height="2.8" rx="0.7"/>
<rect x="121" y="244.0" width="2.9" height="2.8" rx="0.7"/>
<rect x="121" y="257.0" width="2.9" height="2.8" rx="0.7"/>
<rect x="121" y="270.0" width="2.9" height="2.8" rx="0.7"/>
<rect x="121" y="296.0" width="2.9" height="2.8" rx="0.7"/>
<rect x="121" y="309.0" width="2.9" height="2.8" rx="0.7"/>
<rect x="121" y="322.0" width="2.9" height="2.8" rx="0.7"/>
<rect x="121" y="348.0" width="2.9" height="2.8" rx="0.7"/>
<rect x="121" y="361.0" width="2.9" height="2.8" rx="0.7"/>
<rect x="121" y="374.0" width="2.9" height="2.8" rx="0.7"/>
<rect x="121" y="400.0" width="2.9" height="2.8" rx="0.7"/>
<rect x="121" y="413.0" width="2.9" height="2.8" rx="0.7"/>
<rect x="121" y="426.0" width="2.9" height="2.8" rx="0.7"/>
<rect x="121" y="452.0" width="2.9" height="2.8" rx="0.7"/>
<rect x="121" y="465.0" width="2.9" height="2.8" rx="0.7"/>
<rect x="121" y="478.0" width="2.9" height="2.8" rx="0.7"/>
<rect x="121" y="504.0" width="2.9" height="2.8" rx="0.7"/>
<rect x="121" y="517.0" width="2.9" height="2.8" rx="0.7"/>
<rect x="121" y="530.0" width="2.9" height="2.8" rx="0.7"/>
<rect x="121" y="556.0" width="2.9" height="2.8" rx="0.7"/>
<rect x="121" y="569.0" width="2.9" height="2.8" rx="0.7"/>
<rect x="121" y="582.0" width="2.9" height="2.8" rx="0.7"/>
<rect x="121" y="608.0" width="2.9" height="2.8" rx="0.7"/>
<rect x="121" y="621.0" width="2.9" height="2.8" rx="0.7"/>
<rect x="121" y="634.0" width="2.9" height="2.8" rx="0.7"/>
<rect x="173" y="192.0" width="2.9" height="2.8" rx="0.7"/>
<rect x="173" y="205.0" width="2.9" height="2.8" rx="0.7"/>
<rect x="173" y="218.0" width="2.9" height="2.8" rx="0.7"/>
<rect x="173" y="244.0" width="2.9" height="2.8" rx="0.7"/>
<rect x="173" y="257.0" width="2.9" height="2.8" rx="0.7"/>
<rect x="173" y="270.0" width="2.9" height="2.8" rx="0.7"/>
<rect x="173" y="296.0" width="2.9" height="2.8" rx="0.7"/>
<rect x="173" y="309.0" width="2.9" height="2.8" rx="0.7"/>
<rect x="173" y="322.0" width="2.9" height="2.8" rx="0.7"/>
<rect x="173" y="348.0" width="2.9" height="2.8" rx="0.7"/>
<rect x="173" y="361.0" width="2.9" height="2.8" rx="0.7"/>
<rect x="173" y="374.0" width="2.9" height="2.8" rx="0.7"/>
<rect x="173" y="400.0" width="2.9" height="2.8" rx="0.7"/>
<rect x="173" y="413.0" width="2.9" height="2.8" rx="0.7"/>
<rect x="173" y="426.0" width="2.9" height="2.8" rx="0.7"/>
<rect x="173" y="452.0" width="2.9" height="2.8" rx="0.7"/>
<rect x="173" y="465.0" width="2.9" height="2.8" rx="0.7"/>
<rect x="173" y="478.0" width="2.9" height="2.8" rx="0.7"/>
<rect x="173" y="504.0" width="2.9" height="2.8" rx="0.7"/>
<rect x="173" y="517.0" width="2.9" height="2.8" rx="0.7"/>
<rect x="173" y="530.0" width="2.9" height="2.8" rx="0.7"/>
<rect x="173" y="556.0" width="2.9" height="2.8" rx="0.7"/>
<rect x="173" y="569.0" width="2.9" height="2.8" rx="0.7"/>
<rect x="173" y="582.0" width="2.9" height="2.8" rx="0.7"/>
<rect x="173" y="608.0" width="2.9" height="2.8" rx="0.7"/>
<rect x="173" y="621.0" width="2.9" height="2.8" rx="0.7"/>
<rect x="173" y="634.0" width="2.9" height="2.8" rx="0.7"/>
<rect x="225" y="192.0" width="2.9" height="2.8" rx="0.7"/>
<rect x="225" y="205.0" width="2.9" height="2.8" rx="0.7"/>
<rect x="225" y="218.0" width="2.9" height="2.8" rx="0.7"/>
<rect x="225" y="244.0" width="2.9" height="2.8" rx="0.7"/>
<rect x="225" y="257.0" width="2.9" height="2.8" rx="0.7"/>
<rect x="225" y="270.0" width="2.9" height="2.8" rx="0.7"/>
<rect x="225" y="296.0" width="2.9" height="2.8" rx="0.7"/>
<rect x="225" y="309.0" width="2.9" height="2.8" rx="0.7"/>
<rect x="225" y="322.0" width="2.9" height="2.8" rx="0.7"/>
<rect x="225" y="348.0" width="2.9" height="2.8" rx="0.7"/>
<rect x="225" y="361.0" width="2.9" height="2.8" rx="0.7"/>
<rect x="225" y="374.0" width="2.9" height="2.8" rx="0.7"/>
<rect x="225" y="400.0" width="2.9" height="2.8" rx="0.7"/>
<rect x="225" y="413.0" width="2.9" height="2.8" rx="0.7"/>
<rect x="225" y="426.0" width="2.9" height="2.8" rx="0.7"/>
<rect x="225" y="452.0" width="2.9" height="2.8" rx="0.7"/>
<rect x="225" y="465.0" width="2.9" height="2.8" rx="0.7"/>
<rect x="225" y="478.0" width="2.9" height="2.8" rx="0.7"/>
<rect x="225" y="504.0" width="2.9" height="2.8" rx="0.7"/>
<rect x="225" y="517.0" width="2.9" height="2.8" rx="0.7"/>
<rect x="225" y="530.0" width="2.9" height="2.8" rx="0.7"/>
<rect x="225" y="556.0" width="2.9" height="2.8" rx="0.7"/>
<rect x="225" y="569.0" width="2.9" height="2.8" rx="0.7"/>
<rect x="225" y="582.0" width="2.9" height="2.8" rx="0.7"/>
<rect x="225" y="608.0" width="2.9" height="2.8" rx="0.7"/>
<rect x="225" y="621.0" width="2.9" height="2.8" rx="0.7"/>
<rect x="225" y="634.0" width="2.9" height="2.8" rx="0.7"/>
<rect x="277" y="192.0" width="2.9" height="2.8" rx="0.7"/>
<rect x="277" y="205.0" width="2.9" height="2.8" rx="0.7"/>
<rect x="277" y="218.0" width="2.9" height="2.8" rx="0.7"/>
<rect x="277" y="244.0" width="2.9" height="2.8" rx="0.7"/>
<rect x="277" y="257.0" width="2.9" height="2.8" rx="0.7"/>
<rect x="277" y="270.0" width="2.9" height="2.8" rx="0.7"/>
<rect x="277" y="296.0" width="2.9" height="2.8" rx="0.7"/>
<rect x="277" y="309.0" width="2.9" height="2.8" rx="0.7"/>
<rect x="277" y="322.0" width="2.9" height="2.8" rx="0.7"/>
<rect x="277" y="348.0" width="2.9" height="2.8" rx="0.7"/>
<rect x="277" y="361.0" width="2.9" height="2.8" rx="0.7"/>
<rect x="277" y="374.0" width="2.9" height="2.8" rx="0.7"/>
<rect x="277" y="400.0" width="2.9" height="2.8" rx="0.7"/>
<rect x="277" y="413.0" width="2.9" height="2.8" rx="0.7"/>
<rect x="277" y="426.0" width="2.9" height="2.8" rx="0.7"/>
<rect x="277" y="452.0" width="2.9" height="2.8" rx="0.7"/>
<rect x="277" y="465.0" width="2.9" height="2.8" rx="0.7"/>
<rect x="277" y="478.0" width="2.9" height="2.8" rx="0.7"/>
<rect x="277" y="504.0" width="2.9" height="2.8" rx="0.7"/>
<rect x="277" y="517.0" width="2.9" height="2.8" rx="0.7"/>
<rect x="277" y="530.0" width="2.9" height="2.8" rx="0.7"/>
<rect x="277" y="556.0" width="2.9" height="2.8" rx="0.7"/>
<rect x="277" y="569.0" width="2.9" height="2.8" rx="0.7"/>
<rect x="277" y="582.0" width="2.9" height="2.8" rx="0.7"/>
<rect x="277" y="608.0" width="2.9" height="2.8" rx="0.7"/>
<rect x="277" y="621.0" width="2.9" height="2.8" rx="0.7"/>
<rect x="277" y="634.0" width="2.9" height="2.8" rx="0.7"/>
<rect x="329" y="192.0" width="2.9" height="2.8" rx="0.7"/>
<rect x="329" y="205.0" width="2.9" height="2.8" rx="0.7"/>
<rect x="329" y="218.0" width="2.9" height="2.8" rx="0.7"/>
<rect x="329" y="244.0" width="2.9" height="2.8" rx="0.7"/>
<rect x="329" y="257.0" width="2.9" height="2.8" rx="0.7"/>
<rect x="329" y="270.0" width="2.9" height="2.8" rx="0.7"/>
<rect x="329" y="296.0" width="2.9" height="2.8" rx="0.7"/>
<rect x="329" y="309.0" width="2.9" height="2.8" rx="0.7"/>
<rect x="329" y="322.0" width="2.9" height="2.8" rx="0.7"/>
<rect x="329" y="348.0" width="2.9" height="2.8" rx="0.7"/>
<rect x="329" y="361.0" width="2.9" height="2.8" rx="0.7"/>
<rect x="329" y="374.0" width="2.9" height="2.8" rx="0.7"/>
<rect x="329" y="400.0" width="2.9" height="2.8" rx="0.7"/>
<rect x="329" y="413.0" width="2.9" height="2.8" rx="0.7"/>
<rect x="329" y="426.0" width="2.9" height="2.8" rx="0.7"/>
<rect x="329" y="452.0" width="2.9" height="2.8" rx="0.7"/>
<rect x="329" y="465.0" width="2.9" height="2.8" rx="0.7"/>
<rect x="329" y="478.0" width="2.9" height="2.8" rx="0.7"/>
<rect x="329" y="504.0" width="2.9" height="2.8" rx="0.7"/>
<rect x="329" y="517.0" width="2.9" height="2.8" rx="0.7"/>
<rect x="329" y="530.0" width="2.9" height="2.8" rx="0.7"/>
<rect x="329" y="556.0" width="2.9" height="2.8" rx="0.7"/>
<rect x="329" y="569.0" width="2.9" height="2.8" rx="0.7"/>
<rect x="329" y="582.0" width="2.9" height="2.8" rx="0.7"/>
<rect x="329" y="608.0" width="2.9" height="2.8" rx="0.7"/>
<rect x="329" y="621.0" width="2.9" height="2.8" rx="0.7"/>
<rect x="329" y="634.0" width="2.9" height="2.8" rx="0.7"/>
<rect x="381" y="192.0" width="2.9" height="2.8" rx="0.7"/>
<rect x="381" y="205.0" width="2.9" height="2.8" rx="0.7"/>
<rect x="381" y="218.0" width="2.9" height="2.8" rx="0.7"/>
<rect x="381" y="244.0" width="2.9" height="2.8" rx="0.7"/>
<rect x="381" y="257.0" width="2.9" height="2.8" rx="0.7"/>
<rect x="381" y="270.0" width="2.9" height="2.8" rx="0.7"/>
<rect x="381" y="296.0" width="2.9" height="2.8" rx="0.7"/>
<rect x="381" y="309.0" width="2.9" height="2.8" rx="0.7"/>
<rect x="381" y="322.0" width="2.9" height="2.8" rx="0.7"/>
<rect x="381" y="348.0" width="2.9" height="2.8" rx="0.7"/>
<rect x="381" y="361.0" width="2.9" height="2.8" rx="0.7"/>
<rect x="381" y="374.0" width="2.9" height="2.8" rx="0.7"/>
<rect x="381" y="400.0" width="2.9" height="2.8" rx="0.7"/>
<rect x="381" y="413.0" width="2.9" height="2.8" rx="0.7"/>
<rect x="381" y="426.0" width="2.9" height="2.8" rx="0.7"/>
<rect x="381" y="452.0" width="2.9" height="2.8" rx="0.7"/>
<rect x="381" y="465.0" width="2.9" height="2.8" rx="0.7"/>
<rect x="381" y="478.0" width="2.9" height="2.8" rx="0.7"/>
<rect x="381" y="504.0" width="2.9" height="2.8" rx="0.7"/>
<rect x="381" y="517.0" width="2.9" height="2.8" rx="0.7"/>
<rect x="381" y="530.0" width="2.9" height="2.8" rx="0.7"/>
<rect x="381" y="556.0" width="2.9" height="2.8" rx="0.7"/>
<rect x="381" y="569.0" width="2.9" height="2.8" rx="0.7"/>
<rect x="381" y="582.0" width="2.9" height="2.8" rx="0.7"/>
<rect x="381" y="608.0" width="2.9" height="2.8" rx="0.7"/>
<rect x="381" y="621.0" width="2.9" height="2.8" rx="0.7"/>
<rect x="381" y="634.0" width="2.9" height="2.8" rx="0.7"/>
<rect x="433" y="192.0" width="2.9" height="2.8" rx="0.7"/>
<rect x="433" y="205.0" width="2.9" height="2.8" rx="0.7"/>
<rect x="433" y="218.0" width="2.9" height="2.8" rx="0.7"/>
<rect x="433" y="244.0" width="2.9" height="2.8" rx="0.7"/>
<rect x="433" y="257.0" width="2.9" height="2.8" rx="0.7"/>
<rect x="433" y="270.0" width="2.9" height="2.8" rx="0.7"/>
<rect x="433" y="296.0" width="2.9" height="2.8" rx="0.7"/>
<rect x="433" y="309.0" width="2.9" height="2.8" rx="0.7"/>
<rect x="433" y="322.0" width="2.9" height="2.8" rx="0.7"/>
<rect x="433" y="348.0" width="2.9" height="2.8" rx="0.7"/>
<rect x="433" y="361.0" width="2.9" height="2.8" rx="0.7"/>
<rect x="433" y="374.0" width="2.9" height="2.8" rx="0.7"/>
<rect x="433" y="400.0" width="2.9" height="2.8" rx="0.7"/>
<rect x="433" y="413.0" width="2.9" height="2.8" rx="0.7"/>
<rect x="433" y="426.0" width="2.9" height="2.8" rx="0.7"/>
<rect x="433" y="452.0" width="2.9" height="2.8" rx="0.7"/>
<rect x="433" y="465.0" width="2.9" height="2.8" rx="0.7"/>
<rect x="433" y="478.0" width="2.9" height="2.8" rx="0.7"/>
<rect x="433" y="504.0" width="2.9" height="2.8" rx="0.7"/>
<rect x="433" y="517.0" width="2.9" height="2.8" rx="0.7"/>
<rect x="433" y="530.0" width="2.9" height="2.8" rx="0.7"/>
<rect x="433" y="556.0" width="2.9" height="2.8" rx="0.7"/>
<rect x="433" y="569.0" width="2.9" height="2.8" rx="0.7"/>
<rect x="433" y="582.0" width="2.9" height="2.8" rx="0.7"/>
<rect x="433" y="608.0" width="2.9" height="2.8" rx="0.7"/>
<rect x="433" y="621.0" width="2.9" height="2.8" rx="0.7"/>
<rect x="433" y="634.0" width="2.9" height="2.8" rx="0.7"/>
<rect x="485" y="192.0" width="2.9" height="2.8" rx="0.7"/>
<rect x="485" y="205.0" width="2.9" height="2.8" rx="0.7"/>
<rect x="485" y="218.0" width="2.9" height="2.8" rx="0.7"/>
<rect x="485" y="244.0" width="2.9" height="2.8" rx="0.7"/>
<rect x="485" y="257.0" width="2.9" height="2.8" rx="0.7"/>
<rect x="485" y="270.0" width="2.9" height="2.8" rx="0.7"/>
<rect x="485" y="296.0" width="2.9" height="2.8" rx="0.7"/>
<rect x="485" y="309.0" width="2.9" height="2.8" rx="0.7"/>
<rect x="485" y="322.0" width="2.9" height="2.8" rx="0.7"/>
<rect x="485" y="348.0" width="2.9" height="2.8" rx="0.7"/>
<rect x="485" y="361.0" width="2.9" height="2.8" rx="0.7"/>
<rect x="485" y="374.0" width="2.9" height="2.8" rx="0.7"/>
<rect x="485" y="400.0" width="2.9" height="2.8" rx="0.7"/>
<rect x="485" y="413.0" width="2.9" height="2.8" rx="0.7"/>
<rect x="485" y="426.0" width="2.9" height="2.8" rx="0.7"/>
<rect x="485" y="452.0" width="2.9" height="2.8" rx="0.7"/>
<rect x="485" y="465.0" width="2.9" height="2.8" rx="0.7"/>
<rect x="485" y="478.0" width="2.9" height="2.8" rx="0.7"/>
<rect x="485" y="504.0" width="2.9" height="2.8" rx="0.7"/>
<rect x="485" y="517.0" width="2.9" height="2.8" rx="0.7"/>
<rect x="485" y="530.0" width="2.9" height="2.8" rx="0.7"/>
<rect x="485" y="556.0" width="2.9" height="2.8" rx="0.7"/>
<rect x="485" y="569.0" width="2.9" height="2.8" rx="0.7"/>
<rect x="485" y="582.0" width="2.9" height="2.8" rx="0.7"/>
<rect x="485" y="608.0" width="2.9" height="2.8" rx="0.7"/>
<rect x="485" y="621.0" width="2.9" height="2.8" rx="0.7"/>
<rect x="485" y="634.0" width="2.9" height="2.8" rx="0.7"/>
<rect x="537" y="192.0" width="2.9" height="2.8" rx="0.7"/>
<rect x="537" y="205.0" width="2.9" height="2.8" rx="0.7"/>
<rect x="537" y="218.0" width="2.9" height="2.8" rx="0.7"/>
<rect x="537" y="244.0" width="2.9" height="2.8" rx="0.7"/>
<rect x="537" y="257.0" width="2.9" height="2.8" rx="0.7"/>
<rect x="537" y="270.0" width="2.9" height="2.8" rx="0.7"/>
<rect x="537" y="296.0" width="2.9" height="2.8" rx="0.7"/>
<rect x="537" y="309.0" width="2.9" height="2.8" rx="0.7"/>
<rect x="537" y="322.0" width="2.9" height="2.8" rx="0.7"/>
<rect x="537" y="348.0" width="2.9" height="2.8" rx="0.7"/>
<rect x="537" y="361.0" width="2.9" height="2.8" rx="0.7"/>
<rect x="537" y="374.0" width="2.9" height="2.8" rx="0.7"/>
<rect x="537" y="400.0" width="2.9" height="2.8" rx="0.7"/>
<rect x="537" y="413.0" width="2.9" height="2.8" rx="0.7"/>
<rect x="537" y="426.0" width="2.9" height="2.8" rx="0.7"/>
<rect x="537" y="452.0" width="2.9" height="2.8" rx="0.7"/>
<rect x="537" y="465.0" width="2.9" height="2.8" rx="0.7"/>
<rect x="537" y="478.0" width="2.9" height="2.8" rx="0.7"/>
<rect x="537" y="504.0" width="2.9" height="2.8" rx="0.7"/>
<rect x="537" y="517.0" width="2.9" height="2.8" rx="0.7"/>
<rect x="537" y="530.0" width="2.9" height="2.8" rx="0.7"/>
<rect x="537" y="556.0" width="2.9" height="2.8" rx="0.7"/>
<rect x="537" y="569.0" width="2.9" height="2.8" rx="0.7"/>
<rect x="537" y="582.0" width="2.9" height="2.8" rx="0.7"/>
<rect x="537" y="608.0" width="2.9" height="2.8" rx="0.7"/>
<rect x="537" y="621.0" width="2.9" height="2.8" rx="0.7"/>
<rect x="537" y="634.0" width="2.9" height="2.8" rx="0.7"/>
<rect x="589" y="192.0" width="2.9" height="2.8" rx="0.7"/>
<rect x="589" y="205.0" width="2.9" height="2.8" rx="0.7"/>
<rect x="589" y="218.0" width="2.9" height="2.8" rx="0.7"/>
<rect x="589" y="244.0" width="2.9" height="2.8" rx="0.7"/>
<rect x="589" y="257.0" width="2.9" height="2.8" rx="0.7"/>
<rect x="589" y="270.0" width="2.9" height="2.8" rx="0.7"/>
<rect x="589" y="296.0" width="2.9" height="2.8" rx="0.7"/>
<rect x="589" y="309.0" width="2.9" height="2.8" rx="0.7"/>
<rect x="589" y="322.0" width="2.9" height="2.8" rx="0.7"/>
<rect x="589" y="348.0" width="2.9" height="2.8" rx="0.7"/>
<rect x="589" y="361.0" width="2.9" height="2.8" rx="0.7"/>
<rect x="589" y="374.0" width="2.9" height="2.8" rx="0.7"/>
<rect x="589" y="400.0" width="2.9" height="2.8" rx="0.7"/>
<rect x="589" y="413.0" width="2.9" height="2.8" rx="0.7"/>
<rect x="589" y="426.0" width="2.9" height="2.8" rx="0.7"/>
<rect x="589" y="452.0" width="2.9" height="2.8" rx="0.7"/>
<rect x="589" y="465.0" width="2.9" height="2.8" rx="0.7"/>
<rect x="589" y="478.0" width="2.9" height="2.8" rx="0.7"/>
<rect x="589" y="504.0" width="2.9" height="2.8" rx="0.7"/>
<rect x="589" y="517.0" width="2.9" height="2.8" rx="0.7"/>
<rect x="589" y="530.0" width="2.9" height="2.8" rx="0.7"/>
<rect x="589" y="556.0" width="2.9" height="2.8" rx="0.7"/>
<rect x="589" y="569.0" width="2.9" height="2.8" rx="0.7"/>
<rect x="589" y="582.0" width="2.9" height="2.8" rx="0.7"/>
<rect x="589" y="608.0" width="2.9" height="2.8" rx="0.7"/>
<rect x="589" y="621.0" width="2.9" height="2.8" rx="0.7"/>
<rect x="589" y="634.0" width="2.9" height="2.8" rx="0.7"/>
<rect x="641" y="192.0" width="2.9" height="2.8" rx="0.7"/>
<rect x="641" y="205.0" width="2.9" height="2.8" rx="0.7"/>
<rect x="641" y="218.0" width="2.9" height="2.8" rx="0.7"/>
<rect x="641" y="244.0" width="2.9" height="2.8" rx="0.7"/>
<rect x="641" y="257.0" width="2.9" height="2.8" rx="0.7"/>
<rect x="641" y="270.0" width="2.9" height="2.8" rx="0.7"/>
<rect x="641" y="296.0" width="2.9" height="2.8" rx="0.7"/>
<rect x="641" y="309.0" width="2.9" height="2.8" rx="0.7"/>
<rect x="641" y="322.0" width="2.9" height="2.8" rx="0.7"/>
<rect x="641" y="348.0" width="2.9" height="2.8" rx="0.7"/>
<rect x="641" y="361.0" width="2.9" height="2.8" rx="0.7"/>
<rect x="641" y="374.0" width="2.9" height="2.8" rx="0.7"/>
<rect x="641" y="400.0" width="2.9" height="2.8" rx="0.7"/>
<rect x="641" y="413.0" width="2.9" height="2.8" rx="0.7"/>
<rect x="641" y="426.0" width="2.9" height="2.8" rx="0.7"/>
<rect x="641" y="452.0" width="2.9" height="2.8" rx="0.7"/>
<rect x="641" y="465.0" width="2.9" height="2.8" rx="0.7"/>
<rect x="641" y="478.0" width="2.9" height="2.8" rx="0.7"/>
<rect x="641" y="504.0" width="2.9" height="2.8" rx="0.7"/>
<rect x="641" y="517.0" width="2.9" height="2.8" rx="0.7"/>
<rect x="641" y="530.0" width="2.9" height="2.8" rx="0.7"/>
<rect x="641" y="556.0" width="2.9" height="2.8" rx="0.7"/>
<rect x="641" y="569.0" width="2.9" height="2.8" rx="0.7"/>
<rect x="641" y="582.0" width="2.9" height="2.8" rx="0.7"/>
<rect x="641" y="608.0" width="2.9" height="2.8" rx="0.7"/>
<rect x="641" y="621.0" width="2.9" height="2.8" rx="0.7"/>
<rect x="641" y="634.0" width="2.9" height="2.8" rx="0.7"/>
</g>
<g fill="#000" shape-rendering="crispEdges">
<rect x="69" y="179" width="3" height="481"/>
<rect x="693" y="179" width="3" height="481"/>
<rect x="64" y="647" width="637" height="3"/>
<rect x="64" y="179" width="6" height="3"/>
<rect x="695" y="179" width="6" height="3"/>
<rect x="64" y="231" width="6" height="3"/>
<rect x="695" y="231" width="6" height="3"/>
<rect x="64" y="283" width="6" height="3"/>
<rect x="695" y="283" width="6" height="3"/>
<rect x="64" y="335" width="6" height="3"/>
<rect x="695" y="335" width="6" height="3"/>
<rect x="64" y="387" width="6" height="3"/>
<rect x="695" y="387" width="6" height="3"/>
<rect x="64" y="439" width="6" height="3"/>
<rect x="695" y="439" width="6" height="3"/>
<rect x="64" y="491" width="6" height="3"/>
<rect x="695" y="491" width="6" height="3"/>
<rect x="64" y="543" width="6" height="3"/>
<rect x="695" y="543" width="6" height="3"/>
<rect x="64" y="595" width="6" height="3"/>
<rect x="695" y="595" width="6" height="3"/>
<rect x="121" y="648" width="3" height="12"/>
<rect x="173" y="648" width="3" height="12"/>
<rect x="225" y="648" width="3" height="12"/>
<rect x="277" y="648" width="3" height="12"/>
<rect x="329" y="648" width="3" height="12"/>
<rect x="381" y="648" width="3" height="12"/>
<rect x="433" y="648" width="3" height="12"/>
<rect x="485" y="648" width="3" height="12"/>
<rect x="537" y="648" width="3" height="12"/>
<rect x="589" y="648" width="3" height="12"/>
<rect x="641" y="648" width="3" height="12"/>
</g>
<g class="sans" font-size="31.08" text-anchor="middle">
<text transform="translate(512.1,44.0) scale(1,1.045)">Tristan da Cunha/Großbritannien</text>
<text transform="translate(512.9,85.2) scale(1,1.045)">37°3'S/12°19'W</text>
<text transform="translate(512.4,127.4) scale(1,1.045)">25m</text>
</g>
<text class="sans" font-size="10.28" x="873.2" y="10.9">Erstellt mit Geoklima 2.1</text>
<text class="serif thin2" font-size="23.50" fill="#ff2a2a" letter-spacing="2.50" text-anchor="start" transform="translate(33.70,156.70) scale(0.9400,1)"><tspan dy="-2.0">°</tspan><tspan dy="2.0">C</tspan></text>
<text class="serif thin3" font-size="23.50" fill="#2a2aff" letter-spacing="0.00" text-anchor="start" transform="translate(704.90,156.80) scale(0.8500,1)">mm</text>
<text class="sans thin" font-size="21.80" style="fill:#2a2aff" letter-spacing="2.27" x="706.45" y="188.80">180</text>
<text class="sans thin" font-size="21.80" style="fill:#2a2aff" letter-spacing="2.27" x="706.45" y="240.80">160</text>
<text class="sans thin" font-size="21.80" style="fill:#2a2aff" letter-spacing="2.27" x="706.45" y="292.80">140</text>
<text class="sans thin" font-size="21.80" style="fill:#2a2aff" letter-spacing="2.27" x="706.45" y="344.80">120</text>
<text class="sans thin" font-size="21.80" style="fill:#2a2aff" letter-spacing="2.27" x="706.45" y="396.80">100</text>
<text class="sans thin" font-size="21.80" style="fill:#2a2aff" letter-spacing="2.27" x="706.45" y="448.80">80</text>
<text class="sans thin" font-size="21.80" style="fill:#2a2aff" letter-spacing="2.27" x="706.45" y="500.80">60</text>
<text class="sans thin" font-size="21.80" style="fill:#2a2aff" letter-spacing="2.27" x="706.45" y="552.80">40</text>
<text class="sans thin" font-size="21.80" style="fill:#2a2aff" letter-spacing="2.27" x="706.45" y="604.80">20</text>
<text class="sans thin" font-size="21.80" style="fill:#2a2aff" letter-spacing="2.27" x="706.45" y="656.80">0</text>
<text class="sans thin" font-size="21.80" style="fill:#ff2a2a" letter-spacing="2.27" x="32.50" y="449.90">40</text>
<text class="sans thin" font-size="21.80" style="fill:#ff2a2a" letter-spacing="2.27" x="32.50" y="501.90">30</text>
<text class="sans thin" font-size="21.80" style="fill:#ff2a2a" letter-spacing="2.27" x="32.50" y="553.90">20</text>
<text class="sans thin" font-size="21.80" style="fill:#ff2a2a" letter-spacing="2.27" x="32.50" y="605.90">10</text>
<text class="sans thin" font-size="21.80" style="fill:#ff2a2a" letter-spacing="2.27" x="46.90" y="657.90">0</text>
<text class="serif thin2" font-size="21.50" fill="#333" letter-spacing="0.00" text-anchor="middle" transform="translate(97.00,680.60) scale(1.0000,1)">J</text>
<text class="serif thin2" font-size="21.50" fill="#333" letter-spacing="0.00" text-anchor="middle" transform="translate(149.00,680.60) scale(1.0000,1)">A</text>
<text class="serif thin2" font-size="21.50" fill="#333" letter-spacing="0.00" text-anchor="middle" transform="translate(201.00,680.60) scale(1.0000,1)">S</text>
<text class="serif thin2" font-size="21.50" fill="#333" letter-spacing="0.00" text-anchor="middle" transform="translate(253.00,680.60) scale(1.0000,1)">O</text>
<text class="serif thin2" font-size="21.50" fill="#333" letter-spacing="0.00" text-anchor="middle" transform="translate(305.00,680.60) scale(1.0000,1)">N</text>
<text class="serif thin2" font-size="21.50" fill="#333" letter-spacing="0.00" text-anchor="middle" transform="translate(357.00,680.60) scale(1.0000,1)">D</text>
<text class="serif thin2" font-size="21.50" fill="#333" letter-spacing="0.00" text-anchor="middle" transform="translate(409.00,680.60) scale(1.0000,1)">J</text>
<text class="serif thin2" font-size="21.50" fill="#333" letter-spacing="0.00" text-anchor="middle" transform="translate(461.00,680.60) scale(1.0000,1)">F</text>
<text class="serif thin2" font-size="21.50" fill="#333" letter-spacing="0.00" text-anchor="middle" transform="translate(513.00,680.60) scale(1.0000,1)">M</text>
<text class="serif thin2" font-size="21.50" fill="#333" letter-spacing="0.00" text-anchor="middle" transform="translate(565.00,680.60) scale(1.0000,1)">A</text>
<text class="serif thin2" font-size="21.50" fill="#333" letter-spacing="0.00" text-anchor="middle" transform="translate(617.00,680.60) scale(1.0000,1)">M</text>
<text class="serif thin2" font-size="21.50" fill="#333" letter-spacing="0.00" text-anchor="middle" transform="translate(669.00,680.60) scale(1.0000,1)">J</text>
<text class="mono thin" font-size="25.00" fill="#222" text-anchor="start" transform="translate(778.60,169.40) scale(0.8433,1.0000)">Monat</text>
<text class="mono thin" font-size="25.00" fill="#222" text-anchor="start" transform="translate(860.00,169.40) scale(0.8433,1.0000)">Temp.</text>
<text class="mono thin" font-size="25.00" fill="#222" text-anchor="start" transform="translate(931.30,169.40) scale(0.8433,1.0000)">Nied.</text>
<text class="mono thin" font-size="25.00" fill="#222" text-anchor="start" transform="translate(865.50,199.00) scale(0.8433,1.0000)">(°C)</text>
<text class="mono thin" font-size="25.00" fill="#222" text-anchor="start" transform="translate(938.50,199.00) scale(0.8433,1.0000)">(mm)</text>
<g fill="#222" shape-rendering="crispEdges">
<rect x="852" y="146" width="2" height="415" fill="#404040"/>
<rect x="925" y="146" width="2" height="415" fill="#404040"/>
<rect x="780" y="212" width="220" height="1" fill="#000"/>
<rect x="780" y="560" width="220" height="1" fill="#000"/>
</g>
<text class="mono thin" font-size="25.00" fill="#222" text-anchor="start" transform="translate(792.80,239.40) scale(0.8433,1.0000)">JUL</text>
<text class="sans b" font-size="21.60" text-anchor="end" transform="translate(913.60,239.40) scale(1,1.050)">12,0</text>
<text class="sans b" font-size="21.60" text-anchor="end" transform="translate(986.70,239.40) scale(1,1.050)">147</text>
<text class="mono thin" font-size="25.00" fill="#222" text-anchor="start" transform="translate(792.80,267.47) scale(0.8433,1.0000)">AUG</text>
<text class="sans b" font-size="21.60" text-anchor="end" transform="translate(913.60,267.47) scale(1,1.050)">11,8</text>
<text class="sans b" font-size="21.60" text-anchor="end" transform="translate(986.70,267.47) scale(1,1.050)">193</text>
<text class="mono thin" font-size="25.00" fill="#222" text-anchor="start" transform="translate(792.80,295.54) scale(0.8433,1.0000)">SEP</text>
<text class="sans b" font-size="21.60" text-anchor="end" transform="translate(913.60,295.54) scale(1,1.050)">11,8</text>
<text class="sans b" font-size="21.60" text-anchor="end" transform="translate(986.70,295.54) scale(1,1.050)">129</text>
<text class="mono thin" font-size="25.00" fill="#222" text-anchor="start" transform="translate(792.80,323.61) scale(0.8433,1.0000)">OKT</text>
<text class="sans b" font-size="21.60" text-anchor="end" transform="translate(913.60,323.61) scale(1,1.050)">12,8</text>
<text class="sans b" font-size="21.60" text-anchor="end" transform="translate(986.70,323.61) scale(1,1.050)">139</text>
<text class="mono thin" font-size="25.00" fill="#222" text-anchor="start" transform="translate(792.80,351.68) scale(0.8433,1.0000)">NOV</text>
<text class="sans b" font-size="21.60" text-anchor="end" transform="translate(913.60,351.68) scale(1,1.050)">14,2</text>
<text class="sans b" font-size="21.60" text-anchor="end" transform="translate(986.70,351.68) scale(1,1.050)">117</text>
<text class="mono thin" font-size="25.00" fill="#222" text-anchor="start" transform="translate(792.80,379.75) scale(0.8433,1.0000)">DEZ</text>
<text class="sans b" font-size="21.60" text-anchor="end" transform="translate(913.60,379.75) scale(1,1.050)">16,3</text>
<text class="sans b" font-size="21.60" text-anchor="end" transform="translate(986.70,379.75) scale(1,1.050)">167</text>
<text class="mono thin" font-size="25.00" fill="#222" text-anchor="start" transform="translate(792.80,407.82) scale(0.8433,1.0000)">JAN</text>
<text class="sans b" font-size="21.60" text-anchor="end" transform="translate(913.60,407.82) scale(1,1.050)">17,4</text>
<text class="sans b" font-size="21.60" text-anchor="end" transform="translate(986.70,407.82) scale(1,1.050)">103</text>
<text class="mono thin" font-size="25.00" fill="#222" text-anchor="start" transform="translate(792.80,435.89) scale(0.8433,1.0000)">FEB</text>
<text class="sans b" font-size="21.60" text-anchor="end" transform="translate(913.60,435.89) scale(1,1.050)">18,2</text>
<text class="sans b" font-size="21.60" text-anchor="end" transform="translate(986.70,435.89) scale(1,1.050)">88</text>
<text class="mono thin" font-size="25.00" fill="#222" text-anchor="start" transform="translate(792.80,463.96) scale(0.8433,1.0000)">MRZ</text>
<text class="sans b" font-size="21.60" text-anchor="end" transform="translate(913.60,463.96) scale(1,1.050)">17,0</text>
<text class="sans b" font-size="21.60" text-anchor="end" transform="translate(986.70,463.96) scale(1,1.050)">88</text>
<text class="mono thin" font-size="25.00" fill="#222" text-anchor="start" transform="translate(792.80,492.03) scale(0.8433,1.0000)">APR</text>
<text class="sans b" font-size="21.60" text-anchor="end" transform="translate(913.60,492.03) scale(1,1.050)">15,7</text>
<text class="sans b" font-size="21.60" text-anchor="end" transform="translate(986.70,492.03) scale(1,1.050)">153</text>
<text class="mono thin" font-size="25.00" fill="#222" text-anchor="start" transform="translate(792.80,520.10) scale(0.8433,1.0000)">MAI</text>
<text class="sans b" font-size="21.60" text-anchor="end" transform="translate(913.60,520.10) scale(1,1.050)">14,3</text>
<text class="sans b" font-size="21.60" text-anchor="end" transform="translate(986.70,520.10) scale(1,1.050)">144</text>
<text class="mono thin" font-size="25.00" fill="#222" text-anchor="start" transform="translate(792.80,548.17) scale(0.8433,1.0000)">JUN</text>
<text class="sans b" font-size="21.60" text-anchor="end" transform="translate(913.60,548.17) scale(1,1.050)">13,2</text>
<text class="sans b" font-size="21.60" text-anchor="end" transform="translate(986.70,548.17) scale(1,1.050)">187</text>
<text class="mono thin" font-size="25.00" fill="#222" text-anchor="start" transform="translate(779.00,591.20) scale(0.8433,1.0000)">Temp.-Jahresmittel</text>
<text class="sans b" font-size="21.60" text-anchor="middle" transform="translate(889.70,621.00) scale(1,1.050)">14,6 °C</text>
<text class="mono thin" font-size="25.00" fill="#222" text-anchor="start" transform="translate(779.00,663.80) scale(0.8433,1.0000)">Niederschlagssumme</text>
<text class="sans b" font-size="21.60" text-anchor="middle" transform="translate(889.20,693.70) scale(1,1.050)">1655 mm</text>
</svg>
</body></html>
